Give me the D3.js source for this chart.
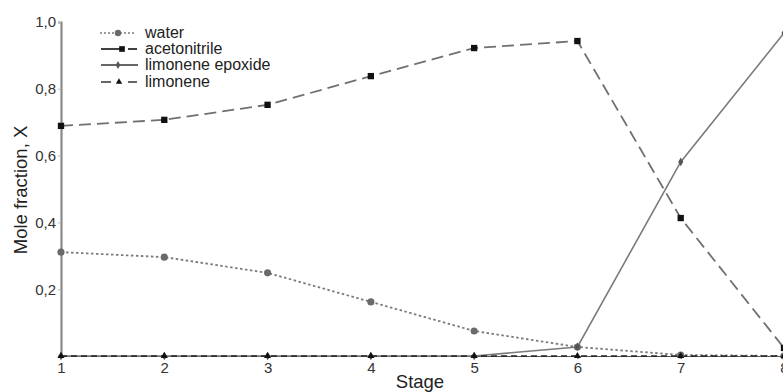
<!DOCTYPE html>
<html><head><meta charset="utf-8">
<script src="https://cdn.jsdelivr.net/npm/d3@7"></script>
<style>body{margin:0;background:#fff}svg{display:block;font-family:"Liberation Sans",Arial,sans-serif}</style>
</head><body><svg id="c" width="783" height="392"></svg>
<script>
const stages = [1,2,3,4,5,6,7,8];
const xTickLabels = ["1","2","3","4","5","6","7","8"];
const yTicks = [0.2,0.4,0.6,0.8,1.0];
const yTickLabels = ["0,2","0,4","0,6","0,8","1,0"];
const water = [0.311,0.296,0.249,0.162,0.075,0.027,0.003,0.0];
const acetonitrile = [0.689,0.707,0.752,0.838,0.922,0.943,0.413,0.024];
const limoneneEpoxide = [0,0,0,0,0,0.027,0.581,0.967];
const limonene = [0,0,0,0,0,0,0,0];
const seriesNames = ["water","acetonitrile","limonene epoxide","limonene"];

const svg = d3.select("#c");
const x = d3.scaleLinear().domain([1,8]).range([61,784]);
const y = d3.scaleLinear().domain([0,1]).range([356,22]);

// y axis
const yAxis = svg.append("g").attr("transform","translate(61,0)")
  .call(d3.axisLeft(y).tickValues(yTicks).tickFormat((d,i)=>yTickLabels[i]).tickSize(3).tickPadding(2));
yAxis.select(".domain").attr("stroke","#8a8a8a").attr("stroke-width",2.2);
yAxis.selectAll(".tick line").attr("stroke","#bbb");
yAxis.selectAll("text").attr("font-size",15).attr("fill","#333").attr("font-family","Liberation Sans, Arial, sans-serif");

// x axis
const xAxis = svg.append("g").attr("transform","translate(0,356)")
  .call(d3.axisBottom(x).tickValues(stages).tickFormat((d,i)=>xTickLabels[i]).tickSize(3).tickPadding(3));
xAxis.select(".domain").attr("stroke","#555").attr("stroke-width",1.2);
xAxis.selectAll(".tick line").attr("stroke","#333");
xAxis.selectAll("text").attr("font-size",15).attr("fill","#333").attr("font-family","Liberation Sans, Arial, sans-serif");

// titles
svg.append("text").attr("transform","translate(27,190) rotate(-90)").attr("text-anchor","middle")
  .attr("font-size",18.5).attr("fill","#222").text("Mole fraction, X");
svg.append("text").attr("x",420).attr("y",388).attr("text-anchor","middle")
  .attr("font-size",18.5).attr("fill","#222").text("Stage");

const line = d3.line().x((d,i)=>x(stages[i])).y(d=>y(d));

const styles = [
  {data:water, stroke:"#7a7a7a", dash:"2.5,2.5", width:1.8, marker:"circle", fill:"#6a6a6a"},
  {data:acetonitrile, stroke:"#707070", dash:"12,6", width:1.8, marker:"square", fill:"#111"},
  {data:limoneneEpoxide, stroke:"#7a7a7a", dash:null, width:1.6, marker:"diamond", fill:"#555"},
  {data:limonene, stroke:"#222", dash:"6,4", width:1.6, marker:"triangle", fill:"#111"}
];
const symMap = {circle:d3.symbolCircle, square:d3.symbolSquare, diamond:d3.symbolDiamond, triangle:d3.symbolTriangle};
const symSize = {circle:40, square:40, diamond:22, triangle:22};

styles.forEach(s=>{
  svg.append("path").datum(s.data).attr("d",line).attr("fill","none")
    .attr("stroke",s.stroke).attr("stroke-width",s.width).attr("stroke-dasharray",s.dash);
});
styles.forEach(s=>{
  svg.append("g").selectAll("path").data(s.data).join("path")
    .attr("transform",(d,i)=>`translate(${x(stages[i])},${y(d)})`)
    .attr("d",d3.symbol(symMap[s.marker],symSize[s.marker])).attr("fill",s.fill);
});

// legend
const lg = svg.append("g");
const rowY = [33,49,65,82];
styles.forEach((s,i)=>{
  const ry = rowY[i];
  if(i===0){
    lg.append("line").attr("x1",100).attr("x2",136).attr("y1",ry).attr("y2",ry).attr("stroke","#7a7a7a").attr("stroke-width",1.6).attr("stroke-dasharray","2,2");
  } else if(i===1){
    lg.append("line").attr("x1",101).attr("x2",120).attr("y1",ry).attr("y2",ry).attr("stroke","#111").attr("stroke-width",1.6);
    lg.append("line").attr("x1",128).attr("x2",137).attr("y1",ry).attr("y2",ry).attr("stroke","#111").attr("stroke-width",1.6);
  } else if(i===2){
    lg.append("line").attr("x1",101).attr("x2",138).attr("y1",ry).attr("y2",ry).attr("stroke","#333").attr("stroke-width",1.5);
  } else {
    lg.append("line").attr("x1",101).attr("x2",111).attr("y1",ry).attr("y2",ry).attr("stroke","#333").attr("stroke-width",1.5);
    lg.append("line").attr("x1",128).attr("x2",137).attr("y1",ry).attr("y2",ry).attr("stroke","#333").attr("stroke-width",1.5);
  }
  lg.append("path").attr("transform",`translate(${i===1?122:(i===3?119:118)},${ry})`)
    .attr("d",d3.symbol(symMap[s.marker],symSize[s.marker]*0.8)).attr("fill",s.fill);
  lg.append("text").attr("x",145).attr("y",ry+5).attr("font-size",16).attr("fill","#222").text(seriesNames[i]);
});
</script></body></html>
